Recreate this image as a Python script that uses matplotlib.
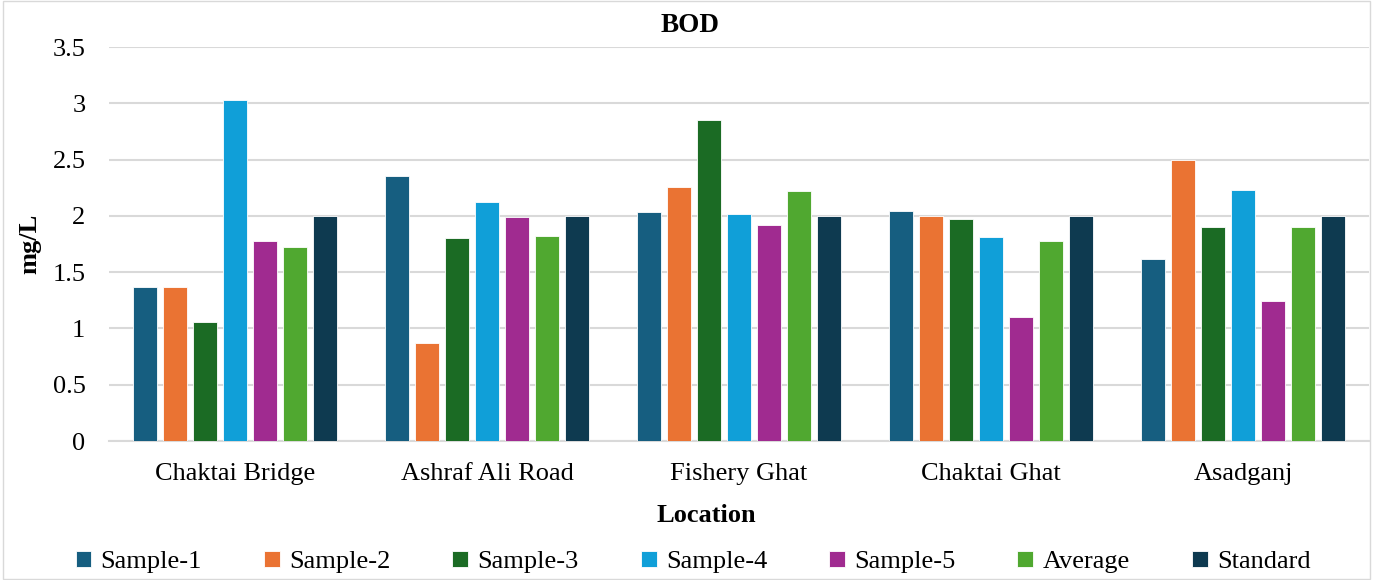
import matplotlib
matplotlib.use("Agg")
import matplotlib.pyplot as plt
import numpy as np

plt.rcParams['font.family'] = ['Liberation Serif', 'DejaVu Serif']

locations = ["Chaktai Bridge", "Ashraf Ali Road", "Fishery Ghat", "Chaktai Ghat", "Asadganj"]
series_names = ["Sample-1", "Sample-2", "Sample-3", "Sample-4", "Sample-5", "Average", "Standard"]
sample1 = [1.37, 2.35, 2.03, 2.04, 1.62]
sample2 = [1.37, 0.87, 2.26, 2.00, 2.50]
sample3 = [1.06, 1.80, 2.85, 1.97, 1.90]
sample4 = [3.03, 2.12, 2.02, 1.81, 2.23]
sample5 = [1.78, 1.99, 1.92, 1.10, 1.24]
average = [1.72, 1.82, 2.22, 1.78, 1.90]
standard = [2.0, 2.0, 2.0, 2.0, 2.0]
colors = ["#165E80", "#EA7333", "#1B6B24", "#109FD8", "#A02B90", "#50A830", "#0E3A50"]

all_series = [sample1, sample2, sample3, sample4, sample5, average, standard]

fig = plt.figure(figsize=(13.73, 5.8), dpi=100)
ax = fig.add_axes([109/1373, 1-441/580, 1260/1373, 394/580])

x = np.arange(len(locations))
step = 30/252
width = 24/252
for i, (name, vals, c) in enumerate(zip(series_names, all_series, colors)):
    ax.bar(x + (i - 3) * step, vals, width=width, color=c, label=name,
           edgecolor='white', linewidth=0.6, zorder=3)

ax.set_xlim(-0.5, len(locations) - 0.5)
ax.set_ylim(0, 3.5)
ax.set_yticks(np.arange(0, 3.51, 0.5))
ax.set_yticklabels(["0", "0.5", "1", "1.5", "2", "2.5", "3", "3.5"])
ax.set_xticks(x)
ax.set_xticklabels(locations)
ax.tick_params(axis='both', length=0, labelsize=19, colors='black')
ax.tick_params(axis='x', pad=16)
ax.tick_params(axis='y', pad=17)
ax.grid(axis='y', color='#D9D9D9', linewidth=1.5, zorder=0)
for s in ['top', 'right', 'left']:
    ax.spines[s].set_visible(False)
ax.spines['bottom'].set_color('#D9D9D9')
ax.spines['bottom'].set_linewidth(1.5)

fig.text(690/1373, 1-25/580, "BOD", ha='center', va='center', fontsize=19.5, fontweight='bold')
fig.text(30/1373, 1-244/580, "mg/L", ha='center', va='center', rotation=90, fontsize=19, fontweight='bold')
fig.text(706/1373, 1-515/580, "Location", ha='center', va='center', fontsize=19, fontweight='bold')

fig.legend(loc='center', bbox_to_anchor=(693/1373, 1-562/580), ncol=7, frameon=False,
           fontsize=19, handlelength=0.6, handleheight=0.6, handletextpad=0.35, columnspacing=2.35)

border = plt.Rectangle((0.002, 0.002), 0.996, 0.996, transform=fig.transFigure, fill=False,
                       edgecolor='#D9D9D9', linewidth=1)
fig.patches.append(border)

fig.savefig("out.png", dpi=100)
